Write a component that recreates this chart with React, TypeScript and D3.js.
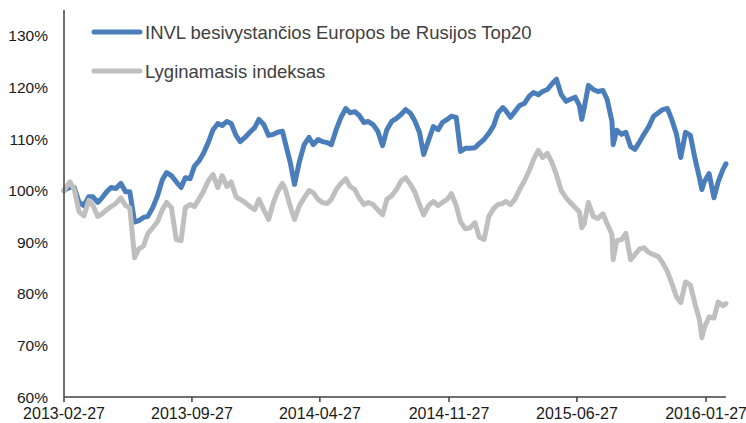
import * as d3 from "d3";

const dates = [
  "2013-02-27", "2013-03-01", "2013-03-09", "2013-03-16", "2013-03-24",
  "2013-04-01", "2013-04-09", "2013-04-16", "2013-04-24",
  "2013-05-01", "2013-05-09", "2013-05-16", "2013-05-24",
  "2013-06-01", "2013-06-09", "2013-06-16", "2013-06-24",
  "2013-07-01", "2013-07-09", "2013-07-16", "2013-07-24",
  "2013-08-01", "2013-08-09", "2013-08-16", "2013-08-24",
  "2013-09-01", "2013-09-09", "2013-09-16", "2013-09-24",
  "2013-10-01", "2013-10-09", "2013-10-16", "2013-10-24",
  "2013-11-01", "2013-11-09", "2013-11-16", "2013-11-24",
  "2013-12-01", "2013-12-09", "2013-12-16", "2013-12-24",
  "2014-01-01", "2014-01-09", "2014-01-16", "2014-01-24",
  "2014-02-01", "2014-02-09", "2014-02-16", "2014-02-24",
  "2014-03-01", "2014-03-09", "2014-03-16", "2014-03-24",
  "2014-04-01", "2014-04-09", "2014-04-16", "2014-04-24",
  "2014-05-01", "2014-05-09", "2014-05-16", "2014-05-24",
  "2014-06-01", "2014-06-09", "2014-06-16", "2014-06-24",
  "2014-07-01", "2014-07-09", "2014-07-16", "2014-07-24",
  "2014-08-01", "2014-08-09", "2014-08-16", "2014-08-24",
  "2014-09-01", "2014-09-09", "2014-09-16", "2014-09-24",
  "2014-10-01", "2014-10-09", "2014-10-16", "2014-10-24",
  "2014-11-01", "2014-11-09", "2014-11-16", "2014-11-24",
  "2014-12-01", "2014-12-09", "2014-12-16", "2014-12-24",
  "2015-01-01", "2015-01-09", "2015-01-16", "2015-01-24",
  "2015-02-01", "2015-02-09", "2015-02-16", "2015-02-24",
  "2015-03-01", "2015-03-09", "2015-03-16", "2015-03-24",
  "2015-04-01", "2015-04-09", "2015-04-16", "2015-04-24",
  "2015-05-01", "2015-05-09", "2015-05-16", "2015-05-24",
  "2015-06-01", "2015-06-09", "2015-06-16", "2015-06-24",
  "2015-07-01", "2015-07-05", "2015-07-09", "2015-07-16", "2015-07-24",
  "2015-08-01", "2015-08-09", "2015-08-16", "2015-08-24", "2015-08-26",
  "2015-09-01", "2015-09-09", "2015-09-16", "2015-09-24",
  "2015-10-01", "2015-10-09", "2015-10-16", "2015-10-24",
  "2015-11-01", "2015-11-09", "2015-11-16", "2015-11-24",
  "2015-12-01", "2015-12-09", "2015-12-16", "2015-12-24",
  "2016-01-01", "2016-01-09", "2016-01-16", "2016-01-20", "2016-01-24",
  "2016-02-01", "2016-02-09", "2016-02-16", "2016-02-24", "2016-02-29",
];

// INVL besivystančios Europos be Rusijos Top20, %
const fundValues = [
  100.0, 100.2, 100.6, 100.6, 97.7,
  97.1, 98.8, 98.8, 97.7,
  98.6, 99.8, 100.6, 100.4,
  101.4, 99.8, 99.8, 93.9,
  94.2, 94.8, 95.0, 96.7,
  99.0, 102.1, 103.5, 102.9,
  101.7, 100.6, 102.5, 102.3,
  104.7, 105.8, 107.2, 109.3,
  111.8, 113.0, 112.6, 113.4,
  113.0, 110.7, 109.5, 110.3,
  111.3, 112.2, 113.8, 112.8,
  110.7, 110.9, 111.3, 111.5,
  109.1, 105.4, 101.2, 105.6,
  108.9, 110.3, 108.9, 109.9,
  109.5, 109.3, 108.9, 111.8,
  114.2, 115.9, 115.1, 115.3,
  114.6, 113.2, 113.4, 112.8,
  111.5, 108.7, 111.8, 113.4,
  114.0, 114.8, 115.7, 115.0,
  113.6, 111.3, 107.0, 109.7,
  112.4, 111.8, 113.2, 113.8,
  114.4, 114.2, 107.6, 108.2,
  108.2, 108.3, 109.1, 109.9,
  111.1, 112.6, 115.0, 116.1,
  115.5, 114.2, 115.3, 116.5,
  116.9, 118.3, 119.0, 118.6,
  119.2, 119.6, 120.6, 121.6,
  118.6, 117.3, 117.7, 118.1,
  116.5, 113.8, 116.0, 120.4, 119.6,
  119.2, 119.4, 117.7, 113.4, 108.9,
  111.7, 110.9, 111.3, 108.5,
  108.0, 109.5, 110.9, 112.4,
  114.4, 115.1, 115.7, 115.9,
  113.8, 110.9, 106.4, 111.3,
  110.7, 106.0, 102.5, 100.2, 101.7,
  103.3, 98.6, 101.7, 104.1, 105.2,
];

// Lyginamasis indeksas, %
const indexValues = [
  100.0, 100.4, 101.7, 100.2, 95.9,
  95.1, 98.1, 97.1, 95.0,
  95.5, 96.3, 96.9, 97.5,
  98.6, 97.1, 96.7, 87.0,
  88.7, 89.3, 91.7, 92.8,
  94.0, 96.3, 97.7, 96.7,
  90.5, 90.3, 96.7, 97.3,
  96.9, 98.4, 99.8, 101.9,
  103.1, 100.6, 102.9, 100.8,
  101.7, 98.8, 98.3, 97.7,
  96.9, 96.3, 98.3, 96.3,
  94.4, 97.7, 99.8, 101.4,
  100.2, 96.9, 94.4, 97.1,
  98.6, 100.0, 99.6, 98.3,
  97.7, 97.5, 98.3, 100.2,
  101.4, 102.3, 100.8, 100.2,
  98.6, 97.3, 97.7, 97.3,
  96.3, 95.3, 98.3, 99.0,
  100.2, 101.9, 102.5, 101.2,
  99.8, 97.3, 95.3, 97.1,
  97.9, 97.1, 97.7, 98.3,
  99.4, 97.1, 94.0, 92.6,
  92.8, 93.8, 91.0, 90.5,
  95.0, 96.5, 97.3, 97.5,
  97.9, 97.3, 98.3, 100.2,
  101.9, 103.9, 106.0, 107.8,
  106.4, 107.2, 105.6, 103.1,
  100.0, 98.6, 97.7, 96.7,
  95.9, 92.8, 93.6, 97.7, 95.0,
  94.6, 95.5, 93.6, 91.5, 86.6,
  90.3, 90.5, 91.7, 86.6,
  87.6, 88.7, 88.9, 88.0,
  87.6, 87.2, 86.0, 84.3,
  82.1, 79.4, 78.3, 82.3,
  81.7, 77.9, 75.0, 71.5, 73.4,
  75.5, 75.3, 78.4, 77.7, 78.1,
];

const xTickLabels = [
  "2013-02-27", "2013-09-27", "2014-04-27",
  "2014-11-27", "2015-06-27", "2016-01-27",
];
const yTicks = [60, 70, 80, 90, 100, 110, 120, 130];

const seriesNames = ["INVL besivystančios Europos be Rusijos Top20", "Lyginamasis indeksas"];
const seriesColors = ["#4a7ebb", "#bfbfbf"];

const width = 746;
const height = 423;
const font = "'Liberation Sans', Arial, sans-serif";

export default function App() {
  const parse = d3.utcParse("%Y-%m-%d");
  const parsedDates = dates.map((d) => parse(d) as Date);

  const x = d3
    .scaleUtc()
    .domain([parse("2013-02-27") as Date, parse("2016-02-29") as Date])
    .range([64, 726]);

  const y = d3.scaleLinear().domain([60, 135]).range([397, 10]);

  const line = d3
    .line<number>()
    .x((_, i) => x(parsedDates[i]))
    .y((v) => y(v));

  const series = [fundValues, indexValues];

  return (
    <svg
      width={width}
      height={height}
      style={{ position: "absolute", left: 0, top: 0, background: "#fff" }}
      fontFamily={font}
    >
      {/* series: fund first, index drawn on top */}
      {series.map((vals, i) => (
        <path
          key={seriesNames[i]}
          d={line(vals) || ""}
          fill="none"
          stroke={seriesColors[i]}
          strokeWidth={5}
          strokeLinejoin="round"
          strokeLinecap="round"
        />
      ))}

      {/* axes */}
      <line x1={64} x2={64} y1={y(135)} y2={y(60)} stroke="#404040" strokeWidth={1.5} />
      <line x1={64} x2={726} y1={y(60)} y2={y(60)} stroke="#404040" strokeWidth={1.5} />

      {yTicks.map((t) => (
        <text
          key={t}
          x={48}
          y={y(t)}
          textAnchor="end"
          dominantBaseline="central"
          fontSize={15.5}
          fill="#1a1a1a"
        >
          {t}%
        </text>
      ))}

      {xTickLabels.map((t) => {
        const px = x(parse(t) as Date);
        return (
          <g key={t}>
            <line x1={px} x2={px} y1={y(60)} y2={y(60) + 5} stroke="#404040" strokeWidth={1.5} />
            <text x={px} y={419} textAnchor="middle" fontSize={16} fill="#1a1a1a">
              {t}
            </text>
          </g>
        );
      })}

      {/* legend */}
      {seriesNames.map((name, i) => {
        const ly = 32 + i * 39;
        return (
          <g key={name}>
            <line
              x1={94}
              x2={140}
              y1={ly}
              y2={ly}
              stroke={seriesColors[i]}
              strokeWidth={5}
              strokeLinecap="round"
            />
            <text
              x={145}
              y={ly}
              dominantBaseline="central"
              fontSize={18.5}
              fill="#404040"
            >
              {name}
            </text>
          </g>
        );
      })}
    </svg>
  );
}
